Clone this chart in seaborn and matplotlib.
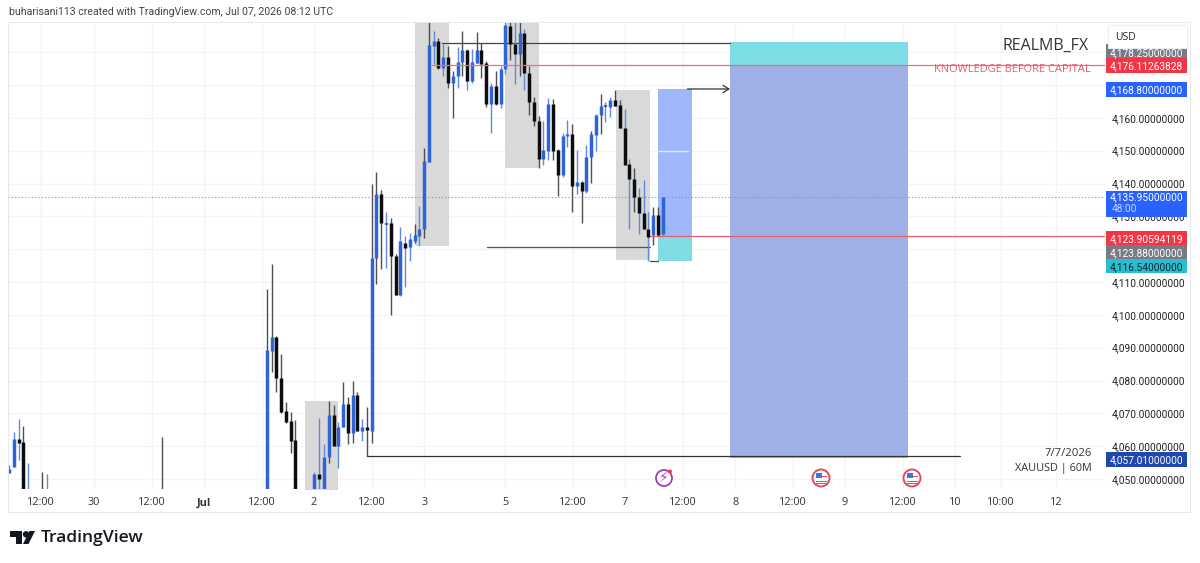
import matplotlib
matplotlib.use("Agg")
import matplotlib.pyplot as plt
from matplotlib.patches import Rectangle, Polygon, Circle
from matplotlib.transforms import Affine2D
import pandas as pd
import seaborn as sns

# Hourly XAUUSD candles; bars that lie entirely below the visible range are left out
bar_index = [-54, -53, -52, -51, -50, -47, -46, -22,
             0, 1, 2, 3, 4, 5, 6, 10, 11, 12, 13, 14, 15, 16, 17, 18, 19, 20, 21, 22, 23, 24, 25, 26, 27, 28, 29,
             30, 31, 32, 33, 34, 35, 36, 37, 38, 39, 40, 41, 42, 43, 44, 45, 46, 47, 48, 49, 50, 51, 52, 53, 54,
             55, 56, 57, 58, 59, 60, 61, 62, 63, 64, 65, 66, 67, 68, 69, 70, 71, 72, 73, 74, 75, 76, 77, 78, 79,
             80, 81, 82, 83]
open_price = [4051.8, 4053.6, 4062.2, 4061.2, 4040, 4046, 4042, 4046,
              4040, 4088.9, 4093.2, 4080.7, 4070.7, 4067.6, 4061.9, 4040, 4051.5, 4040, 4056.7, 4069.5, 4060, 4065.8, 4072.8, 4064, 4075.5, 4064.6, 4065.8, 4064.6, 4117.2, 4136.9, 4128.1, 4128.1, 4117.8, 4105.9, 4122,
              4120.8, 4122.4, 4123.9, 4126, 4146.7, 4181.9, 4183.5, 4175.2, 4178.6, 4170.7, 4172.8, 4177.1, 4180.7, 4171.3, 4176.8, 4180.7, 4176.8, 4164.3, 4169.8, 4164.3, 4174.9, 4188, 4182.5, 4179.5, 4185.9,
              4173.7, 4164.9, 4159.1, 4147.6, 4150, 4164.3, 4150.3, 4142.7, 4154.6, 4155.2, 4139.1, 4140.6, 4137.6, 4148.2, 4154.9, 4161, 4164, 4163.4, 4165.5, 4164, 4157, 4145.8, 4141.5, 4136, 4130.9,
              4126.3, 4124.2, 4130.3, 4124.5]
high_price = [4054.3, 4064.3, 4068.2, 4066.1, 4054.9, 4052.1, 4051.5, 4062.8,
              4107.8, 4115.4, 4093.6, 4088, 4073.4, 4070.4, 4067.9, 4052.1, 4068.5, 4060.6, 4073.7, 4072.5, 4067.3, 4079.5, 4074.9, 4079.8, 4076.4, 4068.2, 4071.9, 4140, 4143.6, 4137.9, 4131.2, 4129.6, 4118.4, 4126.9, 4123.9,
              4124.8, 4127.8, 4133.3, 4150.9, 4192, 4186.5, 4184.4, 4182.5, 4181.9, 4174.3, 4181.6, 4186.5, 4181, 4181, 4186.2, 4182.8, 4177.4, 4170.7, 4174.3, 4175.9, 4195, 4195, 4195, 4195, 4187.1,
              4175.9, 4166.4, 4160.7, 4159.1, 4166.1, 4165.8, 4150.6, 4155.5, 4159.4, 4158.2, 4150.3, 4140.9, 4151.8, 4156.1, 4161.2, 4167.3, 4164.9, 4166.4, 4168.6, 4165.5, 4162.8, 4147.6, 4144.8, 4138.5, 4141.2,
              4131.2, 4132.7, 4133, 4135.95]
low_price = [4051.8, 4053.6, 4055.8, 4038, 4035, 4040, 4040, 4040,
             4038, 4082.5, 4076.4, 4070, 4067, 4057.9, 4042, 4042, 4046, 4038, 4054.9, 4060, 4053.3, 4065.8, 4060.6, 4060.9, 4064.6, 4061.6, 4057, 4060.9, 4109.3, 4114.1, 4114.4, 4099.9, 4106, 4105.6, 4108.4,
             4116.3, 4122, 4121.1, 4123.3, 4146.7, 4176.5, 4175, 4172.8, 4169.2, 4160, 4169.2, 4172.8, 4168.6, 4170.7, 4176.8, 4172.2, 4163.4, 4155.5, 4164, 4163.1, 4173.4, 4177.7, 4170.4, 4172.8, 4168.6,
             4161, 4157.6, 4144.8, 4145.5, 4147.3, 4147.3, 4136.3, 4142, 4151.2, 4131.2, 4136.9, 4128.1, 4137, 4140.3, 4150, 4155.2, 4158.8, 4160.4, 4163.5, 4157, 4145.5, 4126, 4131.2, 4124.5, 4126,
             4116.54, 4121.4, 4124, 4124]
close_price = [4053, 4062.2, 4060.9, 4040, 4046, 4042, 4046, 4042,
               4089.2, 4093.2, 4080.7, 4070.4, 4067.3, 4061.6, 4040, 4051.5, 4050, 4056.7, 4069.5, 4060, 4065.8, 4072.8, 4064, 4075.5, 4064.6, 4065.8, 4064.9, 4117.2, 4136.9, 4128.1, 4127.8, 4117.8, 4106.2, 4122.4, 4120.5,
               4123, 4124.2, 4126, 4147, 4182.2, 4183.5, 4175.2, 4178.6, 4170.7, 4172.8, 4177.1, 4180.7, 4171.3, 4177.1, 4180.7, 4176.5, 4164.3, 4169.8, 4164.3, 4174.9, 4188.3, 4182.5, 4179.5, 4185.9, 4173.7,
               4164.9, 4159.1, 4147.6, 4150.3, 4164.3, 4150, 4142.7, 4154.6, 4155.2, 4139.1, 4140.6, 4137.6, 4148.2, 4155.2, 4161, 4163.7, 4163.7, 4165.5, 4163.7, 4157, 4145.5, 4141.5, 4136, 4130.9, 4126,
               4123.6, 4130.3, 4124.2, 4135.95]

# Wicks whose shade differs from the body
dark_wick_bars = [0, 1, 13, 16, 18, 22, 23, 31, 33, 34, 39, 41, 44, 53, 68, 70, 81]
blue_wick_bars = [-52, 11, 25, 29, 42, 52, 54, 71, 75, 76, 78, 79, 80]

price_ticks = [4050, 4060, 4070, 4080, 4090, 4100, 4110, 4130, 4140, 4150, 4160, 4170]
grid_prices = [4050, 4060, 4070, 4080, 4090, 4100, 4110, 4120, 4130, 4140, 4150, 4160, 4170, 4180]
time_ticks = [-47.3, -36.2, -24, -13.1, -1, 9.9, 22, 33, 50, 64.2, 75.1, 87.3, 98.2, 110.3, 121.2, 133.4, 144.3, 153.9, 165.5]
time_labels = ["12:00", "30", "12:00", "Jul", "12:00", "2", "12:00", "3", "5", "12:00", "7", "12:00",
               "8", "12:00", "9", "12:00", "10", "10:00", "12"]

# Drawn zones: (first bar, last bar, lower price, upper price)
supply_zones = [(8.0, 14.95, 4040, 4073.7), (31.0, 38.15, 4120.9, 4195),
                (50.0, 57.1, 4144.8, 4195), (73.2, 80.3, 4116.6, 4168.6)]
entry_price = 4123.88
stop_price = 4116.54
small_target = 4168.8
big_stop = 4183.1
big_entry = 4176.11263828
big_target = 4057.01
last_price = 4135.95
red_line_price = 4123.90594119
high_line_price = 4182.8
swing_line_price = 4120.8
mid_line_price = 4150
hidden_tag_price = 4178.25

FONT = "Open Sans"
SCALE_FONT = "Roboto"
W, H = 1200, 563
BLUE, BLACK = "#2f64d6", "#0d0d0d"
BLUE_WICK, DARK_WICK = "#6189dc", "#4f4f4f"
GRID = "#f3f4f8"
MUTED = "#e6e8ee"

sns.set_theme(style="white", rc={"font.family": FONT})
fig = plt.figure(figsize=(W / 100, H / 100), dpi=100, facecolor="white")
PLOT_L, PLOT_R, PLOT_T, PLOT_B = 8, 1105, 22, 489
ax = fig.add_axes([PLOT_L / W, 1 - PLOT_B / H, (PLOT_R - PLOT_L) / W, (PLOT_B - PLOT_T) / H])
XLIM, YLIM = (-54.23, 175.7), (4046.96, 4189.2)
ax.set_xlim(*XLIM)
ax.set_ylim(*YLIM)
ax.set_axisbelow(True)
fig.canvas.draw()

# Pixel frame with the origin at the top left, used for the chart furniture
px = Affine2D().scale(1, -1).translate(0, H)


def price_y(price):
    return H - ax.transData.transform((0, price))[1]


sns.despine(ax=ax, left=True, bottom=True)
ax.vlines(time_ticks, *YLIM, color=GRID, lw=0.9, zorder=0.5)
ax.hlines(grid_prices, *XLIM, color=GRID, lw=0.9, zorder=0.5)

# Zones behind the candles
for first, last, lo, hi in supply_zones:
    ax.fill_between([first, last], lo, hi, color="#d9d9d9", linewidth=0, zorder=1)

# Risk/reward tools
ax.fill_between([82.1, 89.2], entry_price, small_target, color="#9fb8fb", linewidth=0, zorder=1.2)
ax.fill_between([82.1, 89.2], stop_price, entry_price, color="#80dde3", linewidth=0, zorder=1.2)
ax.fill_between([97.1, 134.4], big_target - 0.6, big_entry, color="#9fb0e6", linewidth=0, zorder=1.2)
ax.fill_between([97.1, 134.4], big_entry, big_stop, color="#7cdde4", linewidth=0, zorder=1.2)

# Candles: thin wicks first, then thick bodies
candles = pd.DataFrame({"bar": bar_index, "open": open_price, "high": high_price,
                        "low": low_price, "close": close_price})
candles["up"] = candles["close"] >= candles["open"]
candles["body"] = candles["up"].map({True: "up", False: "down"})
candles["wick"] = candles["body"]
candles.loc[candles["bar"].isin(dark_wick_bars), "wick"] = "down"
candles.loc[candles["bar"].isin(blue_wick_bars), "wick"] = "up"

wicks = candles.melt(id_vars=["bar", "wick"], value_vars=["low", "high"], value_name="price")
bodies = candles.melt(id_vars=["bar", "body"], value_vars=["open", "close"], value_name="price")
sns.lineplot(data=wicks, x="bar", y="price", units="bar", estimator=None, hue="wick",
             palette={"up": BLUE_WICK, "down": DARK_WICK}, linewidth=1.0, legend=False,
             sort=False, solid_capstyle="butt", ax=ax, zorder=3)
sns.lineplot(data=bodies, x="bar", y="price", units="bar", estimator=None, hue="body",
             palette={"up": BLUE, "down": BLACK}, linewidth=2.5, legend=False,
             sort=False, solid_capstyle="butt", ax=ax, zorder=4)
ax.set_xlim(*XLIM)
ax.set_ylim(*YLIM)
ax.set_xlabel("")
ax.set_ylabel("")

# Level lines
ax.plot([36.8, 97.1], [high_line_price] * 2, color="#444444", lw=0.9, zorder=2.5)
ax.plot([34.7, 175.7], [big_entry] * 2, color="#e8707c", lw=0.9, zorder=5)
ax.plot([46.2, 80.3], [swing_line_price] * 2, color="#555555", lw=0.9, zorder=2.5)
ax.plot([21.0, 145.4], [big_target] * 2, color="#333333", lw=0.9, zorder=5)
ax.plot([80.3, 175.7], [red_line_price] * 2, color="#e8606e", lw=0.9, zorder=5)
ax.plot([80.3, 82.1], [stop_price] * 2, color="#444444", lw=0.9, zorder=5)
ax.plot([82.1, 88.2], [mid_line_price] * 2, color="#dfe6fb", lw=1.0, zorder=2)
ax.plot(list(XLIM), [last_price] * 2, color="#6f8fdc", lw=0.8, ls=(0, (1, 2)), zorder=2)
ax.annotate("", xy=(97.1, small_target), xytext=(88.2, small_target),
            arrowprops=dict(arrowstyle="->,head_length=0.35,head_width=0.22", color="#333333", lw=0.9,
                            shrinkA=0, shrinkB=0), zorder=5)

# Time and price axes
ax.set_xticks(time_ticks)
ax.set_xticklabels(time_labels, fontsize=7.8, color="#333333")
for lab in ax.get_xticklabels():
    if lab.get_text() == "Jul":
        lab.set_fontweight("bold")
ax.set_yticks(price_ticks)
ax.set_yticklabels([f"{p:,.8f}" for p in price_ticks], fontsize=7.3, color="#222222", family=SCALE_FONT)
ax.yaxis.tick_right()
ax.tick_params(axis="y", length=0, pad=5)
ax.tick_params(axis="x", length=0, pad=6)


def price_tag(price, label, face, ink="white", dy=0.0, height=14.5, left=1106, right=1187):
    centre = price_y(price) + dy
    ax.add_patch(Rectangle((left, centre - height / 2), right - left, height, facecolor=face, edgecolor="none",
                           transform=px, clip_on=False, zorder=10))
    ax.text((left + right) / 2, centre, label, color=ink, fontsize=7.3, family=SCALE_FONT, ha="center",
            va="center_baseline", transform=px, clip_on=False, zorder=11)


# Tags on the price scale
price_tag(hidden_tag_price, f"{hidden_tag_price:,.8f}", "#787b86", dy=-6, height=15)
ax.add_patch(Rectangle((1108, 25), 79, 22.5, facecolor="white", edgecolor="#eceef3", lw=0.7,
                       transform=px, clip_on=False, zorder=12))
ax.text(1115, 37, "USD", fontsize=7.5, color="#222222", va="center", transform=px, clip_on=False, zorder=13)
price_tag(big_entry, "4,176.11263828", "#f23645", dy=0.3, height=15)
price_tag(small_target, "4,168.80000000", "#2962ff", dy=0.5, height=15)
ax.add_patch(Rectangle((1106, 191), 81, 26, facecolor="#2962ff", edgecolor="none", transform=px,
                       clip_on=False, zorder=10))
ax.text(1146.5, 197.5, f"{last_price:,.8f}", color="white", fontsize=7.3, family=SCALE_FONT, ha="center",
        va="center", transform=px, clip_on=False, zorder=11)
ax.text(1112, 209.5, "48:00", color="#c6d4fb", fontsize=7.3, family=SCALE_FONT, ha="left", va="center",
        transform=px, clip_on=False, zorder=11)
price_tag(red_line_price, "4,123.90594119", "#f23645", dy=1.6)
price_tag(entry_price, "4,123.88000000", "#787b86", dy=15.5)
price_tag(stop_price, "4,116.54000000", "#2bbcd1", ink="#0c2a30", dy=5.4)
price_tag(big_target, "4,057.01000000", "#1e48b0", dy=3, height=15)

# Chart annotations
ax.text(1089, 46, "REALMB_FX", fontsize=11.5, color="#333333", ha="right", va="center", transform=px, zorder=9)
ax.text(1091, 69, "KNOWLEDGE BEFORE CAPITAL", fontsize=7.9, color="#e25f6e", ha="right", va="center",
        transform=px, zorder=9)
ax.text(1092, 453, "7/7/2026", fontsize=8.2, color="#333333", ha="right", va="center", transform=px, zorder=9)
ax.text(1092, 468, "XAUUSD | 60M", fontsize=7.8, color="#333333", ha="right", va="center", transform=px, zorder=9)
fig.text(9 / W, 1 - 12 / H, "buharisani113 created with TradingView.com, Jul 07, 2026 08:12 UTC",
         fontsize=7.6, family=SCALE_FONT, color="#444444", va="center")

# Event markers along the bottom of the pane
ax.add_patch(Circle((664, 478), 8, facecolor="white", edgecolor="#a23bb8", lw=1.3, transform=px, zorder=8))
ax.text(664, 478, "\u26a1", fontsize=10, family="DejaVu Sans", color="#a23bb8", ha="center", va="center",
        transform=px, zorder=9)
ax.add_patch(Circle((670, 471.5), 2, facecolor="#ef3b4c", edgecolor="none", transform=px, zorder=9))
for cx in (821, 912):
    ax.add_patch(Circle((cx, 478), 8.5, facecolor="white", edgecolor="#e8495a", lw=1.4, transform=px, zorder=8))
    ax.add_patch(Rectangle((cx - 5.5, 473), 6, 5, facecolor="#3c78d8", edgecolor="none", transform=px, zorder=9))
    for k in range(3):
        ax.add_patch(Rectangle((cx - 5.5 + (0 if k else 6), 479 + k * 2 - (k == 0) * 3), 11 if k else 5, 1.2,
                               facecolor="#e8495a", edgecolor="none", transform=px, zorder=9))

# Outer frame around the chart and scale, plus the brand mark
fig.add_artist(Rectangle((8, 22), 1182, 490, fill=False, edgecolor=MUTED, lw=0.7, transform=px))
fig.add_artist(Polygon([(10, 531), (22, 531), (22, 544), (16, 544), (16, 537), (10, 537)],
                       facecolor="#131722", edgecolor="none", transform=px))
fig.add_artist(Circle((26, 534.3), 3.2, facecolor="#131722", edgecolor="none", transform=px))
fig.add_artist(Polygon([(23, 544), (29.5, 531), (35, 531), (28.5, 544)],
                       facecolor="#131722", edgecolor="none", transform=px))
fig.text(41 / W, 1 - 537.5 / H, "TradingView", fontsize=12.6, fontweight="semibold", color="#131722", va="center")

fig.savefig("out.png", dpi=100, facecolor="white")
